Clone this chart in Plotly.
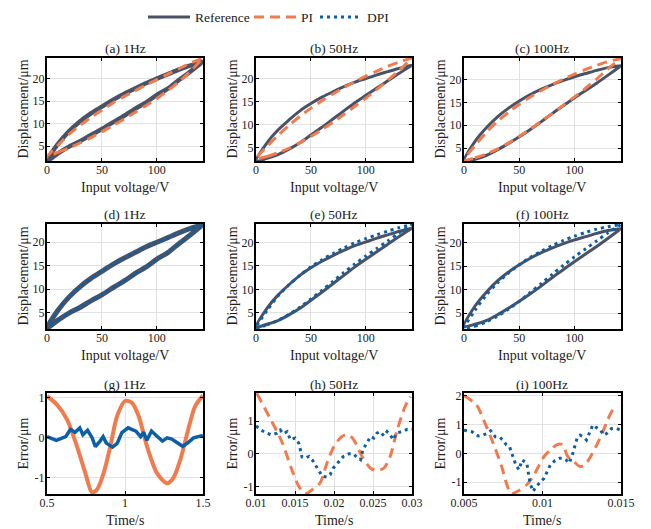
import plotly.graph_objects as go

# ---------------- data ----------------
V = [0, 10, 20, 30, 40, 50, 60, 70, 80, 90, 100, 110, 120, 130, 142]

# 1 Hz
REF_1HZ_ASC = [1.7, 3.4, 4.9, 6.1, 7.5, 8.8, 10.3, 11.7, 13.3, 14.7, 16.4, 17.8, 19.7, 21.5, 23.8]
REF_1HZ_DES = [1.7, 5.5, 8.3, 10.5, 12.3, 13.8, 15.3, 16.6, 17.8, 19.0, 20.0, 21.0, 22.0, 22.9, 23.8]
PI_1HZ_ASC = [2.6, 3.6, 4.6, 5.7, 6.9, 8.2, 9.6, 11.0, 12.5, 14.0, 15.6, 17.4, 19.3, 21.5, 24.6]
PI_1HZ_DES = [2.6, 5.2, 7.6, 9.6, 11.4, 13.0, 14.6, 16.0, 17.3, 18.6, 19.8, 21.0, 22.2, 23.4, 24.6]
DPI_1HZ_ASC = [1.6, 3.4, 4.9, 6.2, 7.5, 8.9, 10.3, 11.8, 13.3, 14.8, 16.4, 17.9, 19.7, 21.5, 23.8]
DPI_1HZ_DES = [1.6, 5.5, 8.3, 10.5, 12.3, 13.9, 15.3, 16.6, 17.8, 19.0, 20.0, 21.0, 22.0, 22.9, 23.8]

# 50 Hz
REF_50HZ_ASC = [2.0, 2.6, 3.4, 4.6, 6.0, 7.7, 9.4, 11.2, 13.0, 14.8, 16.4, 18.0, 19.6, 21.2, 23.0]
REF_50HZ_DES = [2.0, 6.0, 8.8, 11.0, 13.0, 14.6, 16.0, 17.2, 18.3, 19.3, 20.1, 20.9, 21.6, 22.3, 23.0]
PI_50HZ_ASC = [2.5, 3.0, 3.8, 4.8, 6.0, 7.4, 8.9, 10.5, 12.2, 14.0, 15.8, 17.7, 19.7, 21.8, 24.6]
PI_50HZ_DES = [2.5, 5.2, 7.6, 9.8, 11.8, 13.6, 15.2, 16.7, 18.1, 19.4, 20.6, 21.7, 22.8, 23.7, 24.6]
DPI_50HZ_ASC = [1.7, 2.5, 3.4, 4.7, 6.2, 8.0, 9.8, 11.7, 13.6, 15.4, 17.1, 18.7, 20.3, 22.0, 23.8]
DPI_50HZ_DES = [1.7, 5.5, 8.6, 11.0, 13.0, 14.8, 16.3, 17.6, 18.8, 19.9, 20.8, 21.6, 22.4, 23.1, 23.8]

# 100 Hz
REF_100HZ_ASC = [2.2, 2.6, 3.4, 4.6, 6.0, 7.5, 9.1, 10.8, 12.6, 14.3, 16.0, 17.6, 19.2, 20.9, 23.0]
REF_100HZ_DES = [2.2, 6.5, 9.4, 11.8, 13.7, 15.3, 16.7, 17.9, 18.9, 19.8, 20.6, 21.3, 22.0, 22.6, 23.0]
PI_100HZ_ASC = [2.4, 2.9, 3.7, 4.8, 6.1, 7.6, 9.2, 10.9, 12.6, 14.4, 16.2, 18.1, 20.1, 22.3, 24.6]
PI_100HZ_DES = [2.4, 5.6, 8.4, 10.8, 12.8, 14.6, 16.2, 17.6, 18.9, 20.1, 21.2, 22.2, 23.1, 23.9, 24.6]
DPI_100HZ_ASC = [1.6, 2.2, 3.1, 4.3, 5.8, 7.5, 9.4, 11.3, 13.3, 15.2, 17.0, 18.7, 20.4, 22.1, 23.9]
DPI_100HZ_DES = [1.6, 5.6, 8.8, 11.4, 13.5, 15.3, 16.9, 18.2, 19.4, 20.5, 21.4, 22.2, 22.9, 23.4, 23.9]

# Errors 1 Hz
T_1HZ_PI = [0.5, 0.564, 0.628, 0.692, 0.746, 0.788, 0.82, 0.863, 0.906, 0.949, 1.0, 1.045,
            1.088, 1.141, 1.205, 1.27, 1.31, 1.355, 1.4, 1.45, 1.5]
E_1HZ_PI = [1.04, 0.83, 0.46, -0.21, -0.88, -1.36, -1.29, -0.88, -0.21, 0.54, 0.92, 0.875,
            0.54, -0.21, -0.88, -1.13, -1.0, -0.54, 0.13, 0.79, 1.06]
T_1HZ_DPI = [0.5, 0.56, 0.62, 0.65, 0.68, 0.71, 0.73, 0.76, 0.79, 0.81, 0.84, 0.86, 0.88,
             0.92, 0.95, 0.98, 1.02, 1.07, 1.1, 1.12, 1.14, 1.17, 1.2, 1.24, 1.27, 1.3,
             1.33, 1.37, 1.4, 1.44, 1.5]
E_1HZ_DPI = [0.03, -0.06, 0.03, 0.21, 0.14, 0.25, 0.08, 0.19, 0.0, -0.22, -0.08, 0.03, -0.13,
             -0.23, -0.14, 0.13, 0.25, 0.17, 0.03, 0.14, -0.06, 0.17, 0.06, -0.08, 0.0, -0.03,
             -0.11, -0.21, -0.13, 0.0, 0.06]

# Errors 50 Hz
T_50HZ_PI = [0.0101, 0.0118, 0.0133, 0.0146, 0.0155, 0.0163, 0.0172, 0.0182, 0.0191, 0.020,
             0.021, 0.0217, 0.0223, 0.0229, 0.0236, 0.0247, 0.0255, 0.0264, 0.0272, 0.0281,
             0.0291, 0.0298]
E_50HZ_PI = [1.85, 1.09, 0.38, -0.49, -1.0, -1.22, -1.1, -0.9, -0.28, 0.22, 0.53, 0.58, 0.5,
             0.27, -0.08, -0.44, -0.51, -0.44, -0.08, 0.73, 1.44, 1.75]
T_50HZ_DPI = [0.010, 0.0106, 0.0114, 0.012, 0.0127, 0.0131, 0.0135, 0.014, 0.0144, 0.015,
              0.0155, 0.0159, 0.0163, 0.0168, 0.0172, 0.0176, 0.018, 0.0185, 0.0191, 0.0195,
              0.0199, 0.0206, 0.0212, 0.0219, 0.0225, 0.0229, 0.0234, 0.0237, 0.0242, 0.0247,
              0.0251, 0.0255, 0.0259, 0.0264, 0.0268, 0.0272, 0.0276, 0.028, 0.0287, 0.0294,
              0.030]
E_50HZ_DPI = [0.85, 0.73, 0.63, 0.58, 0.63, 0.73, 0.61, 0.68, 0.43, 0.48, 0.32, -0.1, -0.13,
              -0.08, -0.18, -0.34, -0.49, -0.69, -0.71, -0.64, -0.44, -0.23, -0.08, 0.0, 0.0,
              -0.1, -0.18, 0.12, 0.32, 0.53, 0.48, 0.63, 0.68, 0.55, 0.68, 0.58, 0.43, 0.63,
              0.68, 0.75, 0.75]

# Errors 100 Hz
T_100HZ_PI = [0.005, 0.0058, 0.0063, 0.0067, 0.0071, 0.0074, 0.0077, 0.008, 0.0084, 0.009,
              0.0094, 0.0098, 0.0101, 0.0105, 0.0109, 0.0112, 0.0114, 0.0116, 0.012, 0.0124,
              0.0127, 0.013, 0.0134, 0.0138, 0.0141, 0.0144, 0.0147]
E_100HZ_PI = [2.0, 1.67, 1.09, 0.57, 0.0, -0.46, -1.03, -1.41, -1.32, -1.09, -0.8, -0.4,
              -0.11, 0.11, 0.29, 0.31, 0.17, -0.11, -0.29, -0.46, -0.4, -0.17, 0.23, 0.69,
              1.09, 1.44, 1.67]
T_100HZ_DPI = [0.005, 0.0055, 0.0059, 0.0062, 0.0065, 0.0067, 0.007, 0.0073, 0.0075, 0.0077,
               0.0079, 0.0081, 0.0083, 0.0085, 0.0087, 0.009, 0.0092, 0.0094, 0.0096, 0.0099,
               0.0101, 0.0105, 0.0108, 0.0111, 0.0113, 0.0115, 0.0117, 0.0119, 0.0122, 0.0124,
               0.0126, 0.0128, 0.013, 0.0132, 0.0134, 0.0137, 0.0139, 0.0141, 0.0144, 0.0147,
               0.015]
E_100HZ_DPI = [0.8, 0.75, 0.6, 0.63, 0.69, 0.78, 0.57, 0.55, 0.44, 0.29, 0.23, -0.11, -0.4,
               -0.57, -0.23, -0.34, -1.03, -1.32, -1.15, -0.98, -0.86, -0.4, -0.25, -0.17,
               -0.17, -0.23, -0.34, -0.06, 0.52, 0.63, 0.57, 0.46, 0.75, 0.98, 0.9, 0.8, 0.63,
               0.69, 0.86, 0.86, 0.8]

TITLES = ["(a) 1Hz", "(b) 50Hz", "(c) 100Hz", "(d) 1Hz", "(e) 50Hz", "(f) 100Hz",
          "(g) 1Hz", "(h) 50Hz", "(i) 100Hz"]
LEGEND_NAMES = ["Reference", "PI", "DPI"]
X_TICKS_V = [0, 50, 100]
Y_TICKS_D = [5, 10, 15, 20]
X_TICKS_G = [0.5, 1, 1.5]
X_TICKS_H = [0.01, 0.015, 0.02, 0.025, 0.03]
X_TICKS_I = [0.005, 0.01, 0.015]
Y_TICKS_G = [-1, 0, 1]
Y_TICKS_H = [-1, 0, 1]
Y_TICKS_I = [-1, 0, 1, 2]

# ---------------- style ----------------
W, H = 651, 529
OFF = 8  # page body margin shifts the figure by this many pixels
C_REF = "#4a5266"
C_PI = "#f27b4e"
C_DPI = "#0c5fa6"
FONT = "Liberation Serif"
TXT = "#222222"

# target screen positions of the plot boxes
COLS_PX = [(47, 203), (256, 412), (464, 621)]
ROWS_PX = [(58, 161), (224, 329), (393, 494)]

DASH_PI = "10px,6px"
DOT_DPI = "3px,4px"


def px_x(p):
    return (p - OFF) / W


def px_y(p):
    return 1 - (p - OFF) / H


def loop(asc, des):
    return V + V[::-1], asc + des[::-1]


fig = go.Figure()


def add_line(idx, x, y, color, width, dash="solid", shape="spline"):
    ax = "" if idx == 1 else str(idx)
    fig.add_trace(go.Scatter(
        x=x, y=y, mode="lines", xaxis="x" + ax, yaxis="y" + ax,
        line=dict(color=color, width=width, dash=dash, shape=shape, smoothing=0.8),
        showlegend=False, hoverinfo="skip"))


# Row 1: Reference vs PI
add_line(1, *loop(REF_1HZ_ASC, REF_1HZ_DES), C_REF, 4.5)
add_line(1, *loop(PI_1HZ_ASC, PI_1HZ_DES), C_PI, 3, DASH_PI)
add_line(2, *loop(REF_50HZ_ASC, REF_50HZ_DES), C_REF, 3)
add_line(2, *loop(PI_50HZ_ASC, PI_50HZ_DES), C_PI, 3, DASH_PI)
add_line(3, *loop(REF_100HZ_ASC, REF_100HZ_DES), C_REF, 3)
add_line(3, *loop(PI_100HZ_ASC, PI_100HZ_DES), C_PI, 3, DASH_PI)
# Row 2: Reference vs DPI
add_line(4, *loop(REF_1HZ_ASC, REF_1HZ_DES), C_REF, 5)
add_line(4, *loop(DPI_1HZ_ASC, DPI_1HZ_DES), C_DPI, 3, DOT_DPI)
add_line(5, *loop(REF_50HZ_ASC, REF_50HZ_DES), C_REF, 3)
add_line(5, *loop(DPI_50HZ_ASC, DPI_50HZ_DES), C_DPI, 3, DOT_DPI)
add_line(6, *loop(REF_100HZ_ASC, REF_100HZ_DES), C_REF, 3)
add_line(6, *loop(DPI_100HZ_ASC, DPI_100HZ_DES), C_DPI, 3, DOT_DPI)
# Row 3: errors
add_line(7, T_1HZ_PI, E_1HZ_PI, C_PI, 4)
add_line(7, T_1HZ_DPI, E_1HZ_DPI, C_DPI, 3.5, shape="linear")
add_line(8, T_50HZ_PI, E_50HZ_PI, C_PI, 3, DASH_PI)
add_line(8, T_50HZ_DPI, E_50HZ_DPI, C_DPI, 3, DOT_DPI, shape="linear")
add_line(9, T_100HZ_PI, E_100HZ_PI, C_PI, 3, DASH_PI)
add_line(9, T_100HZ_DPI, E_100HZ_DPI, C_DPI, 3, DOT_DPI, shape="linear")


def fmt(v):
    return "%g" % v


def axis_common():
    return dict(showline=True, linewidth=2, linecolor="black", mirror="ticks",
                ticks="inside", ticklen=3, tickwidth=1, tickcolor="black",
                showgrid=True, gridcolor="#e2e2e2", gridwidth=1, zeroline=False,
                automargin=False,
                tickfont=dict(size=12, color=TXT, family=FONT))


Y_RANGES = [[1.7, 24.6], [2.0, 24.6], [2.2, 24.7],
            [1.5, 23.9], [1.6, 23.9], [1.6, 24.0],
            [-1.4, 1.12], [-1.23, 1.86], [-1.41, 2.09]]
X_RANGES = [[0, 142]] * 6 + [[0.5, 1.5], [0.01, 0.03], [0.005, 0.015]]
X_TICKS = [X_TICKS_V] * 6 + [X_TICKS_G, X_TICKS_H, X_TICKS_I]
Y_TICKS = [Y_TICKS_D] * 6 + [Y_TICKS_G, Y_TICKS_H, Y_TICKS_I]
X_TITLES = ["Input voltage/V"] * 6 + ["Time/s"] * 3
Y_TITLES = ["Displacement/μm"] * 6 + ["Error/μm"] * 3

layout = {}
annotations = []
for i in range(9):
    r, c = divmod(i, 3)
    x0, x1 = COLS_PX[c]
    y0, y1 = ROWS_PX[r]
    xd = [px_x(x0), px_x(x1)]
    yd = [px_y(y1), px_y(y0)]
    n = "" if i == 0 else str(i + 1)
    xa = axis_common()
    xa.update(domain=xd, range=X_RANGES[i], anchor="y" + n, ticklabelstandoff=-3,
              tickvals=X_TICKS[i], ticktext=[fmt(v) for v in X_TICKS[i]])
    ya = axis_common()
    ya.update(domain=yd, range=Y_RANGES[i], anchor="x" + n, ticklabelstandoff=-2,
              tickvals=Y_TICKS[i], ticktext=[fmt(v) for v in Y_TICKS[i]])
    layout["xaxis" + n] = xa
    layout["yaxis" + n] = ya
    xc = (xd[0] + xd[1]) / 2
    # subplot title
    annotations.append(dict(text=TITLES[i], xref="paper", yref="paper",
                            x=xc, y=px_y(y0 - 9), xanchor="center",
                            yanchor="middle", showarrow=False, borderpad=0,
                            font=dict(size=13.5, family=FONT, color=TXT)))
    # x title
    annotations.append(dict(text=X_TITLES[i], xref="paper", yref="paper",
                            x=xc, y=px_y(y1 + 26), xanchor="center",
                            yanchor="middle", showarrow=False, borderpad=0,
                            font=dict(size=14, family=FONT, color=TXT)))
    # y title
    annotations.append(dict(text=Y_TITLES[i], xref="paper", yref="paper",
                            x=px_x(x0 - 24), y=px_y((y0 + y1) / 2), xanchor="center",
                            yanchor="middle", showarrow=False, textangle=-90, borderpad=0,
                            font=dict(size=14, family=FONT, color=TXT)))

# manual legend (line samples + labels)
LEG_Y = 17
leg_items = [(148, 190, 194, C_REF, "solid", 3),
             (254, 297, 300, C_PI, DASH_PI, 3),
             (320, 361, 366, C_DPI, DOT_DPI, 3)]
shapes = []
for (lx0, lx1, tx, col, dsh, wd), name in zip(leg_items, LEGEND_NAMES):
    shapes.append(dict(type="line", xref="paper", yref="paper",
                       x0=px_x(lx0), x1=px_x(lx1), y0=px_y(LEG_Y), y1=px_y(LEG_Y),
                       line=dict(color=col, width=wd, dash=dsh)))
    annotations.append(dict(text=name, xref="paper", yref="paper", x=px_x(tx),
                            y=px_y(LEG_Y), xanchor="left", yanchor="middle", borderpad=0,
                            showarrow=False, font=dict(size=13.5, family=FONT, color=TXT)))

fig.update_layout(**layout)
fig.update_layout(
    width=W, height=H, margin=dict(l=0, r=0, t=0, b=0),
    paper_bgcolor="white", plot_bgcolor="white",
    font=dict(family=FONT, color=TXT),
    annotations=annotations, shapes=shapes, showlegend=False,
)

fig.write_html("out.html")
